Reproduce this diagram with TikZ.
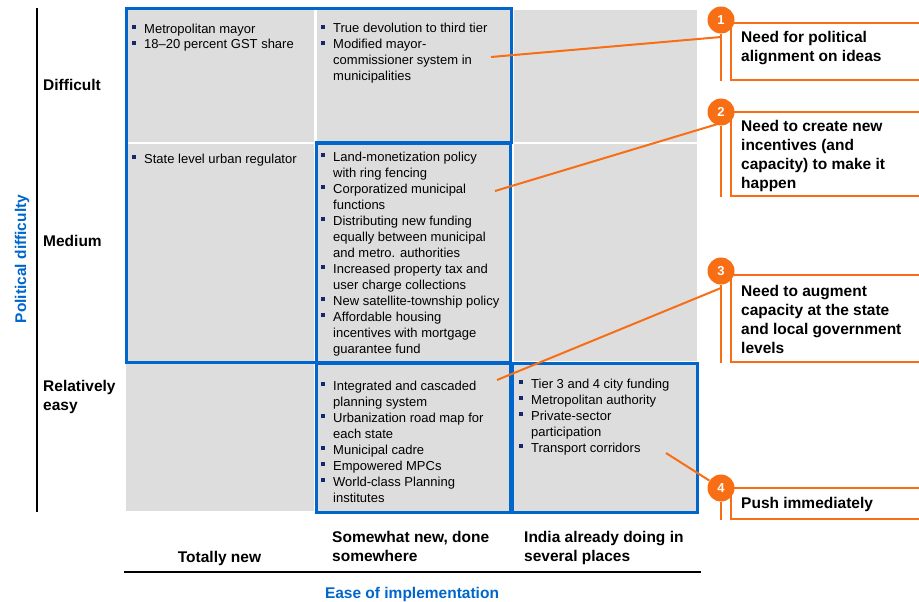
\documentclass[tikz,border=0pt]{standalone}
\usepackage{fontspec}
\setmainfont{Liberation Sans}
\usepackage{xcolor}
\usetikzlibrary{positioning,calc}
\definecolor{cellgray}{RGB}{221,221,221}
\definecolor{mckblue}{RGB}{0,102,204}
\definecolor{callorange}{RGB}{247,110,20}
\definecolor{bulblue}{RGB}{20,40,110}
\newcommand{\bul}{\makebox[12pt][l]{\color{bulblue}\raisebox{4pt}{\rule{3.6pt}{3.6pt}}}}
\newcommand{\ind}{\hspace*{12pt}}

\begin{document}
\begin{tikzpicture}[x=1pt,y=-1pt,
  cell/.style={anchor=base west,align=left,inner sep=0pt,font=\fontsize{13}{16}\selectfont},
  lbl/.style={anchor=base west,align=left,inner sep=0pt,font=\fontsize{15.5}{19}\selectfont\bfseries},
  num/.style={circle,fill=callorange,text=white,minimum size=27pt,inner sep=0pt,font=\fontsize{13}{13}\selectfont\bfseries},
  callbox/.style={draw=callorange,line width=2pt,anchor=north west,minimum width=200pt,inner sep=0pt},
  lead/.style={draw=callorange,line width=2pt},
  quad/.style={draw=mckblue,line width=3pt}]
  \useasboundingbox (0,0) rectangle (919,602);
  % grey matrix
  \foreach \xa/\xb in {126/314,317/510,514/697}
    \foreach \ya/\yb in {10/142,144/361,364/511}
      \fill[cellgray] (\xa,\ya) rectangle (\xb,\yb);
  \draw[quad] (126,9) -- (511,9) -- (511,142) -- (316,142) -- (316,362) -- (126,362) -- cycle;
  \draw[quad] (316,143) rectangle (510,362);
  \draw[quad] (316,363) rectangle (510,512);
  \draw[quad] (512,363) rectangle (697,512);
  % axes (base anchors sit on the last line)
  \draw[line width=1.5pt] (37,8) -- (37,512);
  \draw[line width=1.5pt] (124,572) -- (701,572);
  \node[lbl] (dif) at (43,90.5) {Difficult};
  \node[lbl] (med) at (43,246.5) {Medium};
  \node[lbl] (easy) at (43,410.5) {Relatively\\easy};
  \node[lbl,anchor=center,rotate=90,text=mckblue] (ydir) at (22,259) {Political difficulty};
  \node[lbl,anchor=base] (tnew) at (219.5,562.5) {Totally new};
  \node[lbl] (snew) at (332,561.5) {Somewhat new, done\\somewhere};
  \node[lbl] (india) at (524,561.5) {India already doing in\\several places};
  \node[lbl,anchor=base,text=mckblue] (xdir) at (412,598.5) {Ease of implementation};
  % cell contents
  \node[cell] (c11) at (132,49) {\bul Metropolitan mayor\\\bul 18--20 percent GST share};
  \node[cell] (c21) at (321,81) {\bul True devolution to third tier\\\bul Modified mayor-\\\ind commissioner system in\\\ind municipalities};
  \node[cell] (c12) at (132,163) {\bul State level urban regulator};
  \node[cell] (c22) at (321,353) {\bul Land-monetization policy\\\ind with ring fencing\\\bul Corporatized municipal\\\ind functions\\\bul Distributing new funding\\\ind equally between municipal\\\ind and metro. authorities\\\bul Increased property tax and\\\ind user charge collections\\\bul New satellite-township policy\\\bul Affordable housing\\\ind incentives with mortgage\\\ind guarantee fund};
  \node[cell] (c23) at (321,502) {\bul Integrated and cascaded\\\ind planning system\\\bul Urbanization road map for\\\ind each state\\\bul Municipal cadre\\\bul Empowered MPCs\\\bul World-class Planning\\\ind institutes};
  \node[cell] (c33) at (519,452) {\bul Tier 3 and 4 city funding\\\bul Metropolitan authority\\\bul Private-sector\\\ind participation\\\bul Transport corridors};
  % call-outs
  \node[callbox,minimum height=57pt] (b1) at (730,22) {};
  \node[callbox,minimum height=84pt] (b2) at (730,111) {};
  \node[callbox,minimum height=87pt] (b3) at (730,274) {};
  \node[callbox,minimum height=31pt] (b4) at (730,487) {};
  \node[lbl] (t1) at (741,61.5) {Need for political\\alignment on ideas};
  \node[lbl] (t2) at (741,188.5) {Need to create new\\incentives (and\\capacity) to make it\\happen};
  \node[lbl] (t3) at (741,353.5) {Need to augment\\capacity at the state\\and local government\\levels};
  \node[lbl] (t4) at (741,508.5) {Push immediately};
  \node[num] (n1) at (721,20) {1};
  \node[num] (n2) at (721,112) {2};
  \node[num] (n3) at (721,271) {3};
  \node[num] (n4) at (721,488) {4};
  \draw[lead] (n1) -- (n1 |- b1.south);
  \draw[lead] (n2) -- (n2 |- b2.south);
  \draw[lead] (n3) -- (n3 |- b3.south);
  \draw[lead] (n4) -- (n4 |- b4.south);
  \coordinate (l1) at (491,57);
  \coordinate (l2) at (495,191);
  \coordinate (l3) at (497,380);
  \coordinate (l4) at (666,453);
  \coordinate (e1) at (721,37);
  \coordinate (e2) at (721,123);
  \coordinate (e3) at (721,288);
  \draw[lead] (l1) -- (e1);
  \draw[lead] (l2) -- (e2);
  \draw[lead] (l3) -- (e3);
  \draw[lead] (l4) -- (n4);
\end{tikzpicture}
\end{document}
